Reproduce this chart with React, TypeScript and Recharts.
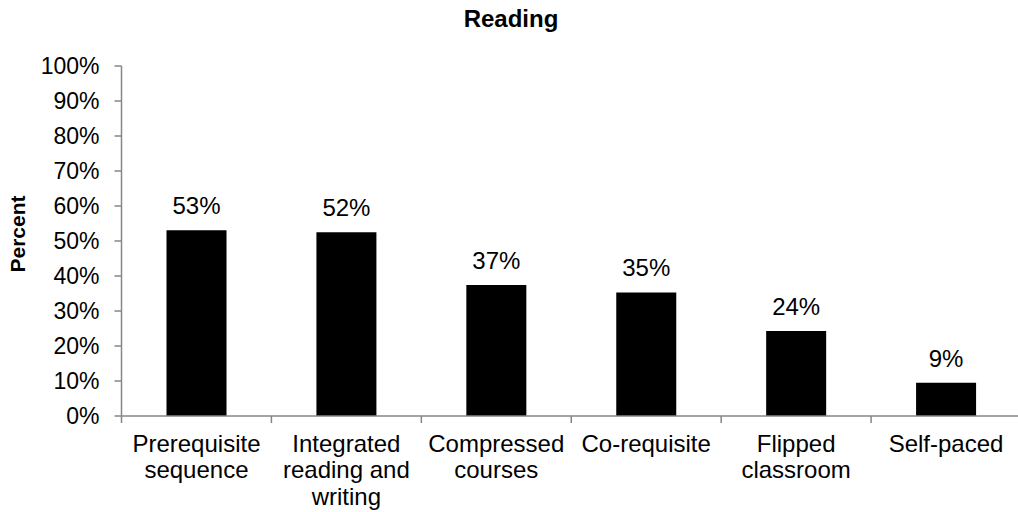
import React from 'react';
import { BarChart, Bar, XAxis, YAxis, LabelList, Customized } from 'recharts';

const categories = [
  'Prerequisite\nsequence',
  'Integrated\nreading and\nwriting',
  'Compressed\ncourses',
  'Co-requisite',
  'Flipped\nclassroom',
  'Self-paced',
];
const values = [53.1, 52.5, 37.4, 35.3, 24.3, 9.5];
const valueLabels = ['53%', '52%', '37%', '35%', '24%', '9%'];
const yTicks = [0, 10, 20, 30, 40, 50, 60, 70, 80, 90, 100];

const data = categories.map((c, i) => ({ name: c, value: values[i], label: valueLabels[i] }));

const FONT = '"Liberation Sans", Arial, sans-serif';
const AXIS = '#868686';

const XTick = (props: any) => {
  const { x, y, payload, index, width, visibleTicksCount } = props;
  const half = width / visibleTicksCount / 2;
  const axisY = y - 19;
  const lines = String(payload.value).split('\n');
  return (
    <g>
      <line x1={x - half} x2={x - half} y1={axisY} y2={axisY + 7} stroke={AXIS} strokeWidth={1.5} />
      {index === visibleTicksCount - 1 && (
        <line x1={x + half} x2={x + half} y1={axisY} y2={axisY + 7} stroke={AXIS} strokeWidth={1.5} />
      )}
      <text textAnchor="middle" style={{ fontFamily: FONT, fontSize: 24, fill: '#000' }}>
        {lines.map((l, i) => (
          <tspan key={i} x={x} y={y + 16.5 + i * 26.5}>
            {l}
          </tspan>
        ))}
      </text>
    </g>
  );
};

const Title = () => (
  <text x={511} y={27} textAnchor="middle" style={{ fontFamily: FONT, fontSize: 24, fontWeight: 'bold', fill: '#000' }}>
    Reading
  </text>
);

const YLabel = () => (
  <text
    x={0}
    y={0}
    transform="translate(25, 234) rotate(-90)"
    textAnchor="middle"
    style={{ fontFamily: FONT, fontSize: 21, fontWeight: 'bold', fill: '#000' }}
  >
    Percent
  </text>
);

export default function App() {
  return (
    <div style={{ position: 'absolute', left: 0, top: 0, width: 1018, height: 512, overflow: 'hidden', background: '#fff' }}>
      <BarChart
        width={1030}
        height={512}
        data={data}
        margin={{ top: 66, right: 9, bottom: 0, left: 0 }}
        barCategoryGap={0}
      >
        <XAxis
          dataKey="name"
          interval={0}
          height={96}
          tickSize={7}
          tickMargin={12}
          tickLine={false}
          axisLine={{ stroke: AXIS, strokeWidth: 1.5 }}
          tick={<XTick />}
        />
        <YAxis
          width={121.5}
          domain={[0, 100]}
          ticks={yTicks}
          interval={0}
          tickFormatter={(v: number) => `${v}%`}
          tickSize={7}
          tickMargin={15}
          axisLine={{ stroke: AXIS, strokeWidth: 1.5 }}
          tickLine={{ stroke: AXIS, strokeWidth: 1.5 }}
          tick={{ fontFamily: FONT, fontSize: 23, fill: '#000' }}
          label={<YLabel />}
        />
        <Bar dataKey="value" fill="#000" barSize={60} isAnimationActive={false}>
          <LabelList
            dataKey="label"
            position="top"
            offset={16}
            style={{ fontFamily: FONT, fontSize: 24, fill: '#000' }}
          />
        </Bar>
        <Customized component={Title} />
      </BarChart>
    </div>
  );
}
